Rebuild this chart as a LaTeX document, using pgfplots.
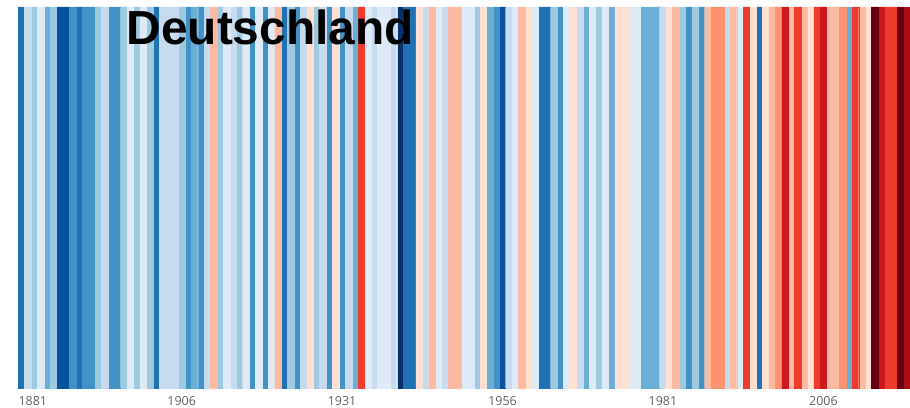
\documentclass[border=0pt]{standalone}
\usepackage{fontspec}
\setmainfont{Liberation Sans}
\newfontfamily\tickfont{Open Sans}
\usepackage{pgfplots}
\pgfplotsset{compat=1.18}

% warming stripes palette, coldest (N8) to warmest (P8)
\definecolor{N8}{HTML}{08306B}
\definecolor{N7}{HTML}{08519C}
\definecolor{N6}{HTML}{2171B5}
\definecolor{N5}{HTML}{4292C6}
\definecolor{N4}{HTML}{6BAED6}
\definecolor{N3}{HTML}{9ECAE1}
\definecolor{N2}{HTML}{C6DBEF}
\definecolor{N1}{HTML}{DEEBF7}
\definecolor{P1}{HTML}{FEE0D2}
\definecolor{P2}{HTML}{FCBBA1}
\definecolor{P3}{HTML}{FC9272}
\definecolor{P4}{HTML}{FB6A4A}
\definecolor{P5}{HTML}{EF3B2C}
\definecolor{P6}{HTML}{CB181D}
\definecolor{P7}{HTML}{A50F15}
\definecolor{P8}{HTML}{67000D}

\pgfplotsset{stripe/.style={ybar, bar width=1, bar shift=0pt, fill=#1, draw=#1, line width=0.2pt}}

\begin{document}
\begin{tikzpicture}
\path[use as bounding box] (0,0) rectangle (910bp,408bp);
\begin{axis}[
    at={(18bp,20bp)}, anchor=south west,
    scale only axis,
    width=892bp, height=381bp,
    xmin=1880.5, xmax=2019.5,
    ymin=0, ymax=1,
    enlargelimits=false,
    hide y axis,
    axis x line*=bottom,
    x axis line style={-, draw=gray!30, line width=0.6pt},
    major tick length=0pt,
    xtick={1882.8,1906,1931,1956,1981,2006},
    xticklabels={1881,1906,1931,1956,1981,2006},
    xticklabel style={font=\tickfont\fontsize{12.5}{12.5}\selectfont, text=black!62, yshift=-4.5bp},
    clip=false,
]
% each series holds the years of one colour class (y is just the full height)
\addplot[stripe=N8] coordinates {(1940,1)};
\addplot[stripe=N7] coordinates {(1887,1) (1888,1) (1956,1)};
\addplot[stripe=N6] coordinates {(1881,1) (1890,1) (1902,1) (1922,1) (1941,1) (1942,1) (1962,1) (1963,1) (1996,1)};
\addplot[stripe=N5] coordinates {(1889,1) (1891,1) (1892,1) (1895,1) (1896,1) (1907,1) (1909,1) (1917,1) (1919,1) (1924,1) (1929,1) (1931,1) (1955,1) (1965,1) (1985,1) (1987,1)};
\addplot[stripe=N4] coordinates {(1885,1) (1908,1) (1933,1) (1954,1) (1969,1) (1973,1) (1978,1) (1979,1) (1980,1) (2010,1)};
\addplot[stripe=N3] coordinates {(1883,1) (1886,1) (1893,1) (1897,1) (1899,1) (1901,1) (1906,1) (1912,1) (1915,1) (1923,1) (1927,1) (1952,1) (1964,1) (1971,1) (1984,1) (1986,1)};
\addplot[stripe=N2] coordinates {(1882,1) (1894,1) (1903,1) (1904,1) (1905,1) (1910,1) (1914,1) (1925,1) (1928,1) (1932,1) (1936,1) (1939,1) (1944,1) (1947,1) (1957,1) (1968,1) (1981,1) (1991,1)};
\addplot[stripe=N1] coordinates {(1884,1) (1898,1) (1900,1) (1913,1) (1916,1) (1918,1) (1920,1) (1935,1) (1937,1) (1938,1) (1946,1) (1950,1) (1951,1) (1958,1) (1961,1) (1966,1) (1970,1) (1972,1) (1976,1) (1977,1) (1993,1)};
\addplot[stripe=P1] coordinates {(1926,1) (1930,1) (1943,1) (1953,1) (1960,1) (1967,1) (1974,1) (1975,1) (1982,1) (1995,1) (1997,1) (2004,1) (2013,1)};
\addplot[stripe=P2] coordinates {(1911,1) (1921,1) (1945,1) (1948,1) (1949,1) (1959,1) (1983,1) (1988,1) (1992,1) (1998,1) (2001,1) (2003,1) (2007,1) (2008,1) (2012,1)};
\addplot[stripe=P3] coordinates {(1989,1) (1990,1) (1999,1) (2009,1)};
\addplot[stripe=P5] coordinates {(1934,1) (1994,1) (2002,1) (2005,1) (2011,1) (2016,1) (2017,1)};
\addplot[stripe=P6] coordinates {(2000,1) (2006,1) (2015,1)};
\addplot[stripe=P7] coordinates {(2019,1)};
\addplot[stripe=P8] coordinates {(2014,1) (2018,1)};
\end{axis}
\node[anchor=base west, inner sep=0pt, font=\fontsize{48}{50}\selectfont\bfseries] at (126.5bp,363bp) {Deutschland};
\end{tikzpicture}
\end{document}
